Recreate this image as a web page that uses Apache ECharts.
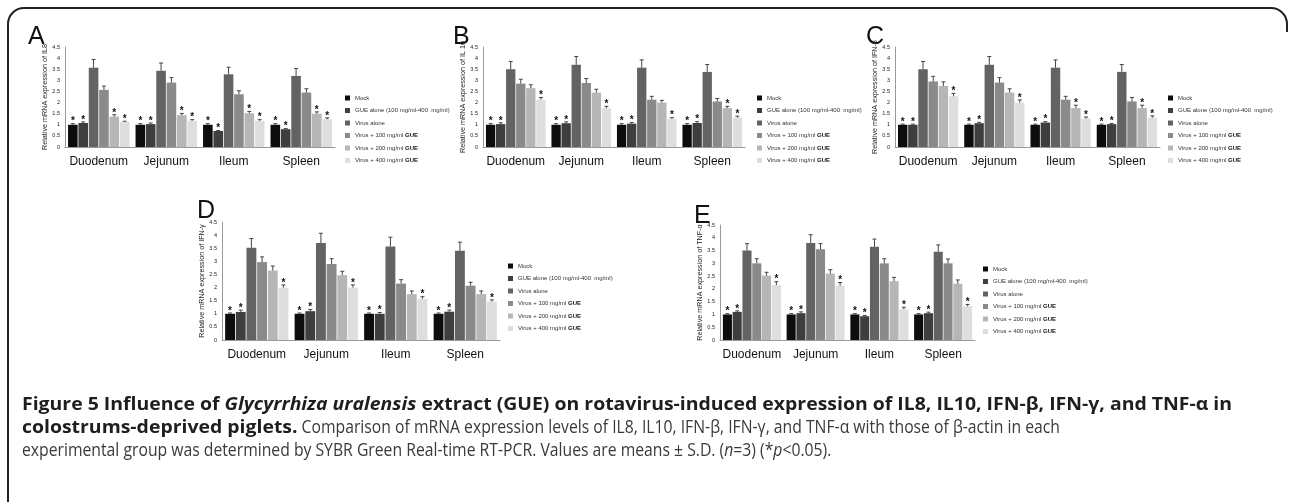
<!DOCTYPE html>
<html><head><meta charset="utf-8">
<script src="https://cdn.jsdelivr.net/npm/echarts@6/dist/echarts.min.js"></script>
<style>html,body{margin:0;padding:0;background:#fff}#c{width:1290px;height:502px}</style>
</head><body><div id="c"></div><script>
// ---------- DATA ----------
const categories = ['Duodenum', 'Jejunum', 'Ileum', 'Spleen'];
const groups = ['Mock', 'GUE alone (100 mg/ml-400  mg/ml)', 'Virus alone',
  'Virus + 100 mg/ml GUE', 'Virus + 200 mg/ml GUE', 'Virus + 400 mg/ml GUE'];
const yMin = 0, yMax = 4.5, yStep = 0.5;

// rows = group, columns = category
const il8Mean = [[1.00,1.00,1.00,1.00],[1.08,1.03,0.72,0.80],[3.57,3.43,3.27,3.20],[2.57,2.90,2.37,2.45],[1.37,1.43,1.52,1.50],[1.13,1.18,1.18,1.25]];
const il8Sd   = [[0.05,0.05,0.05,0.05],[0.05,0.05,0.02,0.03],[0.37,0.35,0.32,0.33],[0.17,0.22,0.16,0.17],[0.08,0.08,0.08,0.08],[0.03,0.05,0.05,0.06]];
const il8Star = [[1,1,1,1],[1,1,1,1],[0,0,0,0],[0,0,0,0],[1,1,1,1],[1,1,1,1]];

const il10Mean = [[1.00,1.00,1.00,1.00],[1.03,1.07,1.05,1.08],[3.50,3.70,3.57,3.38],[2.85,2.88,2.13,2.05],[2.65,2.45,2.00,1.75],[2.13,1.75,1.27,1.32]];
const il10Sd   = [[0.05,0.05,0.05,0.05],[0.06,0.06,0.05,0.06],[0.35,0.37,0.35,0.33],[0.20,0.20,0.15,0.13],[0.15,0.15,0.10,0.08],[0.10,0.08,0.05,0.07]];
const il10Star = [[1,1,1,1],[1,1,1,1],[0,0,0,0],[0,0,0,0],[0,0,0,1],[1,1,1,1]];

const ifnbMean = [[1.00,1.00,1.00,1.00],[1.00,1.07,1.10,1.03],[3.50,3.70,3.57,3.38],[2.95,2.90,2.13,2.05],[2.75,2.45,1.75,1.75],[2.28,2.00,1.28,1.32]];
const ifnbSd   = [[0.03,0.03,0.03,0.03],[0.03,0.04,0.04,0.03],[0.35,0.37,0.35,0.33],[0.23,0.22,0.15,0.18],[0.18,0.17,0.13,0.13],[0.13,0.12,0.07,0.08]];
const ifnbStar = [[1,1,1,1],[1,1,1,1],[0,0,0,0],[0,0,0,0],[0,0,1,1],[1,1,1,1]];

const ifngMean = [[1.00,1.00,1.00,1.00],[1.07,1.10,1.00,1.08],[3.52,3.70,3.57,3.40],[2.97,2.90,2.15,2.07],[2.65,2.47,1.75,1.75],[2.00,2.00,1.57,1.47]];
const ifngSd   = [[0.03,0.03,0.03,0.03],[0.07,0.06,0.05,0.06],[0.35,0.37,0.35,0.33],[0.20,0.20,0.15,0.13],[0.17,0.15,0.12,0.12],[0.10,0.10,0.08,0.06]];
const ifngStar = [[1,1,1,1],[1,1,1,1],[0,0,0,0],[0,0,0,0],[0,0,0,0],[1,1,1,1]];

const tnfMean = [[1.00,1.00,1.00,1.00],[1.10,1.05,0.93,1.05],[3.50,3.80,3.65,3.45],[3.00,3.55,3.00,3.00],[2.52,2.60,2.30,2.20],[2.15,2.12,1.20,1.32]];
const tnfSd   = [[0.03,0.03,0.03,0.03],[0.04,0.05,0.03,0.04],[0.27,0.32,0.30,0.27],[0.18,0.22,0.18,0.17],[0.13,0.15,0.15,0.15],[0.13,0.13,0.08,0.07]];
const tnfStar = [[1,1,1,1],[1,1,1,1],[0,0,0,0],[0,0,0,0],[0,0,0,0],[1,1,1,1]];

// ---------- STYLE / LAYOUT ----------
const groupColors = ['#0d0d0d', '#3e3e3e', '#636363', '#8a8a8a', '#b6b6b6', '#dedede'];
const BAR_CAT_GAP = 0.09, BAR_GAP = 0.08;
const sansFam = '"Liberation Sans", Arial, sans-serif';

const panels = [
  {letter:'A', yName:'Relative mRNA expression of IL8',   mean:il8Mean,  sd:il8Sd,  star:il8Star,
   grid:{left:65, top:47, width:270, height:100}, legend:{left:340, top:90}, letterPos:[28,25]},
  {letter:'B', yName:'Relative mRNA expression of IL 10', mean:il10Mean, sd:il10Sd, star:il10Star,
   grid:{left:483, top:47, width:262, height:100}, legend:{left:752, top:90}, letterPos:[453,25]},
  {letter:'C', yName:'Relative mRNA expression of IFN-β', mean:ifnbMean, sd:ifnbSd, star:ifnbStar,
   grid:{left:895, top:47, width:265, height:100}, legend:{left:1163, top:90}, letterPos:[866,25]},
  {letter:'D', yName:'Relative mRNA expression of IFN-γ', mean:ifngMean, sd:ifngSd, star:ifngStar,
   grid:{left:222, top:222, width:278, height:118}, legend:{left:503, top:258}, letterPos:[197,199]},
  {letter:'E', yName:'Relative mRNA expression of TNF-α', mean:tnfMean,  sd:tnfSd,  star:tnfStar,
   grid:{left:720, top:225, width:255, height:115}, legend:{left:978, top:261}, letterPos:[694,204]}
];

const chart = echarts.init(document.getElementById('c'), null, {renderer:'canvas'});

const grids = [], xAxes = [], yAxes = [], series = [], legends = [], graphics = [];

function legendFmt(name) {
  if (name.endsWith(' GUE') && name.startsWith('Virus +')) {
    return '{r|' + name.slice(0, -3) + '}{b|GUE}';
  }
  return '{r|' + name + '}';
}

panels.forEach((p, pi) => {
  grids.push(Object.assign({containLabel:false}, p.grid));
  xAxes.push({
    type:'category', gridIndex:pi, data:categories,
    axisLine:{show:true, lineStyle:{color:'#9a9a9a', width:1}},
    axisTick:{show:false},
    axisLabel:{color:'#111', fontSize:12, fontFamily:sansFam, margin:9, interval:0}
  });
  yAxes.push({
    type:'value', gridIndex:pi, min:yMin, max:yMax, interval:yStep,
    name:p.yName, nameLocation:'middle', nameGap:15, nameRotate:90,
    nameTextStyle:{color:'#222', fontSize:7.2, fontFamily:sansFam},
    axisLine:{show:true, lineStyle:{color:'#9a9a9a', width:1}},
    axisTick:{show:false},
    splitLine:{show:false},
    axisLabel:{color:'#222', fontSize:5.5, margin:5, fontFamily:sansFam}
  });
  p.mean.forEach((row, g) => {
    series.push({
      type:'bar', name:groups[g], xAxisIndex:pi, yAxisIndex:pi,
      data:row, itemStyle:{color:groupColors[g]},
      barGap:(BAR_GAP*100)+'%', barCategoryGap:(BAR_CAT_GAP*100)+'%',
      silent:true, animation:false
    });
  });
  const errData = [];
  p.mean.forEach((row, g) => row.forEach((v, c) => errData.push([c, g, v, p.sd[g][c], p.star[g][c]])));
  series.push({
    type:'custom', xAxisIndex:pi, yAxisIndex:pi, data:errData, silent:true, animation:false,
    encode:{x:0, y:2}, z:5,
    renderItem:(params, api) => {
      const c = api.value(0), g = api.value(1), m = api.value(2), s = api.value(3), st = api.value(4);
      const band = api.size([1, 0])[0];
      const n = groups.length;
      const bw = band * (1 - BAR_CAT_GAP) / (n + (n - 1) * BAR_GAP);
      const total = n * bw + (n - 1) * bw * BAR_GAP;
      const cx = api.coord([c, 0])[0] - total / 2 + g * bw * (1 + BAR_GAP) + bw / 2;
      const yTop = api.coord([c, m + s])[1];
      const yMid = api.coord([c, m])[1];
      const cap = Math.max(2, bw * 0.18);
      const children = [
        {type:'line', shape:{x1:cx, y1:yMid, x2:cx, y2:yTop}, style:{stroke:'#444', lineWidth:1}},
        {type:'line', shape:{x1:cx - cap, y1:yTop, x2:cx + cap, y2:yTop}, style:{stroke:'#444', lineWidth:1}}
      ];
      if (st) {
        children.push({type:'text', style:{text:'*', x:cx, y:yTop + 3, align:'center', verticalAlign:'bottom',
          fill:'#111', font:'bold 10px ' + sansFam}});
      }
      return {type:'group', children};
    }
  });
  legends.push({
    orient:'vertical', left:p.legend.left, top:p.legend.top, data:groups,
    icon:'rect', itemWidth:5, itemHeight:5, itemGap:6.5, selectedMode:false,
    formatter:legendFmt,
    textStyle:{rich:{
      r:{fontSize:6, color:'#333', fontFamily:sansFam, lineHeight:6},
      b:{fontSize:6, color:'#111', fontWeight:'bold', fontFamily:sansFam, lineHeight:6}
    }}
  });
  graphics.push({type:'text', left:p.letterPos[0], top:p.letterPos[1], silent:true,
    style:{text:p.letter, fill:'#111', font:'25px ' + sansFam}});
});

// border (left, top, right stub with rounded corners)
const bs = {stroke:'#222', lineWidth:2, fill:null};
graphics.push({type:'line', silent:true, shape:{x1:8, y1:24, x2:8, y2:520}, style:bs});
graphics.push({type:'line', silent:true, shape:{x1:24, y1:8, x2:1271, y2:8}, style:bs});
graphics.push({type:'line', silent:true, shape:{x1:1287, y1:24, x2:1287, y2:32}, style:bs});
graphics.push({type:'arc', silent:true, shape:{cx:24, cy:24, r:16, startAngle:Math.PI, endAngle:Math.PI*1.5}, style:bs});
graphics.push({type:'arc', silent:true, shape:{cx:1271, cy:24, r:16, startAngle:Math.PI*1.5, endAngle:Math.PI*2}, style:bs});

// caption: segments laid out left to right; bold face fitted on line 1, regular face on lines 2-3
const capFam = '"Open Sans", "Noto Sans", sans-serif';
const capSize = 18;
const capFonts = {
  b:  'bold ' + capSize + 'px ' + capFam,
  bi: 'italic bold ' + capSize + 'px ' + capFam,
  r:  capSize + 'px ' + capFam,
  i:  'italic ' + capSize + 'px ' + capFam
};
const capFill = {b:'#1e1e1e', bi:'#1e1e1e', r:'#3a3a3a', i:'#3a3a3a'};
const capLines = [
  [['b','Figure 5 Influence of '],['bi','Glycyrrhiza uralensis'],['b',' extract (GUE) on rotavirus-induced expression of IL8, IL10, IFN-β, IFN-γ, and TNF-α in']],
  [['b','colostrums-deprived piglets.'],['r',' Comparison of mRNA expression levels of IL8, IL10, IFN-β, IFN-γ, and TNF-α with those of β-actin in each']],
  [['r','experimental group was determined by SYBR Green Real-time RT-PCR. Values are means ± S.D. ('],['i','n'],['r','=3) (*'],['i','p'],['r','<0.05).']]
];
const capX0 = 22, capY = [405, 428, 451];
const capRight = [1232, 1080, 810];
const mctx = document.createElement('canvas').getContext('2d');
function mw(kind, txt) { mctx.font = capFonts[kind]; return mctx.measureText(txt).width; }
const isBold = k => k === 'b' || k === 'bi';
const sumW = (segs, pred) => segs.filter(s => pred(s[0])).reduce((a, s) => a + mw(s[0], s[1]), 0);
const boldScale = (capRight[0] - capX0) / sumW(capLines[0], isBold);
const regScale2 = (capRight[1] - capX0 - sumW(capLines[1], isBold) * boldScale) / sumW(capLines[1], k => !isBold(k));
const regScale3 = (capRight[2] - capX0) / sumW(capLines[2], k => !isBold(k));
const regScale = (regScale2 + regScale3) / 2;
capLines.forEach((segs, li) => {
  let x = capX0;
  segs.forEach(([k, t]) => {
    const sc = isBold(k) ? boldScale : regScale;
    graphics.push({type:'text', x:x, y:capY[li], scaleX:sc, silent:true,
      style:{text:t, font:capFonts[k], fill:capFill[k], verticalAlign:'middle', align:'left'}});
    x += mw(k, t) * sc;
  });
});

chart.setOption({
  animation:false,
  backgroundColor:'#ffffff',
  grid:grids, xAxis:xAxes, yAxis:yAxes, legend:legends, series, graphic:graphics
});
</script></body></html>
